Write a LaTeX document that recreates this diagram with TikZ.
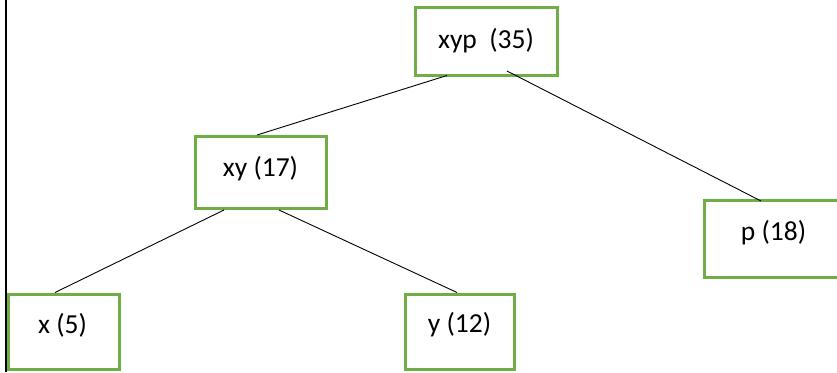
\documentclass[tikz,border=0pt]{standalone}
\usepackage{fontspec}
\setmainfont{Carlito}
\definecolor{boxgreen}{HTML}{70AD47}
\tikzset{
  treebox/.style={draw=boxgreen, line width=2.8pt, rectangle, outer sep=0pt, inner sep=0pt},
  treetext/.style={inner sep=0pt, outer sep=0pt, font=\fontsize{27.5}{32}\selectfont},
  edge/.style={draw=black, line width=0.9pt}
}
\begin{document}
\begin{tikzpicture}[x=1pt, y=-1pt]
\useasboundingbox (0,0) rectangle (837,372);
\clip (0,0) rectangle (837,372);
% left border line
\draw[line width=2.2pt] (6,0) -- (6,372);
% boxes
\node[treebox, minimum width=142pt, minimum height=68pt] (xyp) at (486.5,41.5) {};
\node[treebox, minimum width=131pt, minimum height=72pt] (xy) at (261,172.5) {};
\node[treebox, minimum width=175.5pt, minimum height=77pt] (p) at (792.25,239) {};
\node[treebox, minimum width=111pt, minimum height=75pt] (x) at (64,332) {};
\node[treebox, minimum width=109pt, minimum height=75pt] (y) at (460,332) {};
% texts
\node[treetext] (xypt) at (486,41) {xyp\ \ (35)};
\node[treetext] (xyt) at (260.5,168.5) {xy (17)};
\node[treetext] (pt) at (773.5,233) {p (18)};
\node[treetext] (xt) at (62.5,325) {x (5)};
\node[treetext] (yt) at (459.5,325) {y (12)};
% connectors
\draw[edge] ([xshift=31.5pt]xyp.south west) -- ([xshift=61.5pt, yshift=1.5pt]xy.north west);
\draw[edge] ([xshift=91.5pt, yshift=4.5pt]xyp.south west) -- ([xshift=56.5pt, yshift=-0.5pt]p.north west);
\draw[edge] ([xshift=28.5pt, yshift=-1.5pt]xy.south west) -- ([xshift=46.5pt, yshift=2pt]x.north west);
\draw[edge] ([xshift=83.5pt, yshift=-1.5pt]xy.south west) -- ([xshift=51.5pt, yshift=2pt]y.north west);
\end{tikzpicture}
\end{document}
